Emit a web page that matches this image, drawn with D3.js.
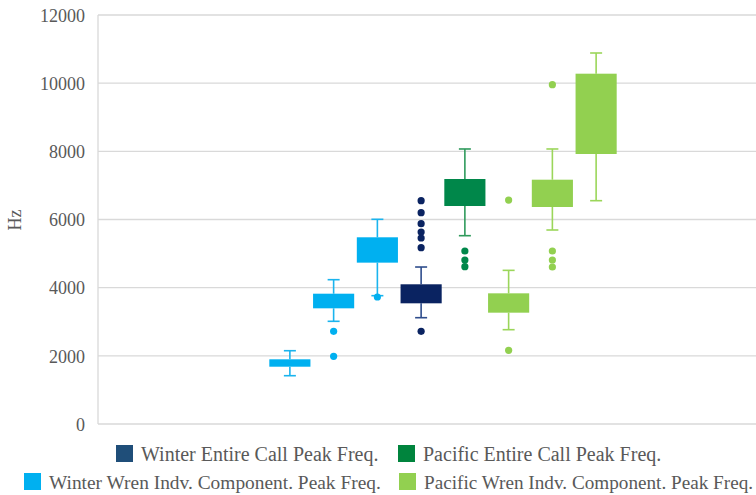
<!DOCTYPE html>
<html><head><meta charset="utf-8">
<script src="https://cdn.jsdelivr.net/npm/d3@7"></script>
<style>body{margin:0;background:#fff}svg{display:block}</style>
</head><body>
<svg id="c" width="756" height="495"></svg>
<script>
const categories = ["W1","W2","W3","WE","PE","P1","P2","P3"];
const seriesOf   = ["wi","wi","wi","we","pe","pi","pi","pi"];
const whiskerLow = [1417, 3013, 3765, 3119, 5525, 2767, 5692, 6552];
const q1         = [1681, 3394, 4734, 3541, 6396, 3266, 6367, 7922];
const q3         = [1898, 3823, 5478, 4099, 7188, 3834, 7168, 10278];
const whiskerHigh= [2150, 4234, 6006, 4606, 8069, 4508, 8069, 10885];
const outliers   = [[], [2720, 1986], [3726], [2720, 5173, 5457, 5633, 5877, 6200, 6552], [5076, 4812, 4616], [2162, 6570], [5076, 4812, 4606, 9956], []];
const yTicks = [0, 2000, 4000, 6000, 8000, 10000, 12000];
const seriesKeys  = ["we","pe","wi","pi"];
const seriesNames = ["Winter Entire Call Peak Freq.","Pacific Entire Call Peak Freq.","Winter Wren Indv. Component. Peak Freq.","Pacific Wren Indv. Component. Peak Freq."];

const fill = {we:"#0a2361", pe:"#00874a", wi:"#00b0f0", pi:"#92d050"};
const line = {we:"#2e4d8c", pe:"#2f9a5c", wi:"#1ab4ee", pi:"#9bd65a"};
const legendFill = {we:"#1f4e79", pe:"#00843d", wi:"#00b0f0", pi:"#92d050"};

const svg = d3.select("#c");
const y = d3.scaleLinear().domain([0,12000]).range([424,15]);
const x = d3.scaleBand().domain(categories).range([268,618]).paddingInner(0.06).paddingOuter(0.03);
const font = "'Liberation Serif','Times New Roman',serif";

// gridlines
svg.append("g").selectAll("line").data(yTicks).join("line")
  .attr("x1",98).attr("x2",756).attr("y1",d=>y(d)).attr("y2",d=>y(d))
  .attr("stroke","#d9d9d9").attr("stroke-width",1.3);
svg.append("line").attr("x1",98).attr("x2",98).attr("y1",y(12000)).attr("y2",y(0))
  .attr("stroke","#d9d9d9").attr("stroke-width",1.3);

// y axis
const yAxis = d3.axisLeft(y).tickValues(yTicks).tickSize(0).tickPadding(0).tickFormat(d3.format("d"));
const ga = svg.append("g").attr("transform","translate(85,0)").call(yAxis);
ga.select(".domain").remove();
ga.selectAll("text").attr("font-family",font).attr("font-size",18).attr("fill","#595959").attr("dy","0.35em");

svg.append("text").attr("transform","translate(21,220) rotate(-90)").attr("text-anchor","middle")
  .attr("font-family",font).attr("font-size",18).attr("fill","#595959").text("Hz");

// boxes
const capW = 12;
categories.forEach((c,i)=>{
  const s = seriesOf[i];
  const cx = x(c) + x.bandwidth()/2;
  const g = svg.append("g");
  g.append("line").attr("x1",cx).attr("x2",cx).attr("y1",y(whiskerHigh[i])).attr("y2",y(q3[i])).attr("stroke",line[s]).attr("stroke-width",1.6);
  g.append("line").attr("x1",cx).attr("x2",cx).attr("y1",y(q1[i])).attr("y2",y(whiskerLow[i])).attr("stroke",line[s]).attr("stroke-width",1.6);
  [whiskerHigh[i], whiskerLow[i]].forEach(v=>{
    g.append("line").attr("x1",cx-capW/2).attr("x2",cx+capW/2).attr("y1",y(v)).attr("y2",y(v)).attr("stroke",line[s]).attr("stroke-width",1.6);
  });
  g.append("rect").attr("x",x(c)).attr("width",x.bandwidth()).attr("y",y(q3[i])).attr("height",y(q1[i])-y(q3[i]))
    .attr("fill",fill[s]);
  g.selectAll("circle").data(outliers[i]).join("circle").attr("cx",cx).attr("cy",d=>y(d)).attr("r",3.6).attr("fill",fill[s]);
});

// legend
const legPos = [[116,445],[398,445],[24,473],[399,473]];
const legSize = [20, 20, 19.4, 19.2];
seriesKeys.forEach((k,i)=>{
  const [lx,ly] = legPos[i];
  svg.append("rect").attr("x",lx).attr("y",ly).attr("width",17).attr("height",17).attr("fill",legendFill[k]);
  svg.append("text").attr("x",lx+25).attr("y",ly+16).attr("font-family",font).attr("font-size",legSize[i]).attr("fill","#595959")
    .text(seriesNames[i]);
});
</script>
</body></html>
